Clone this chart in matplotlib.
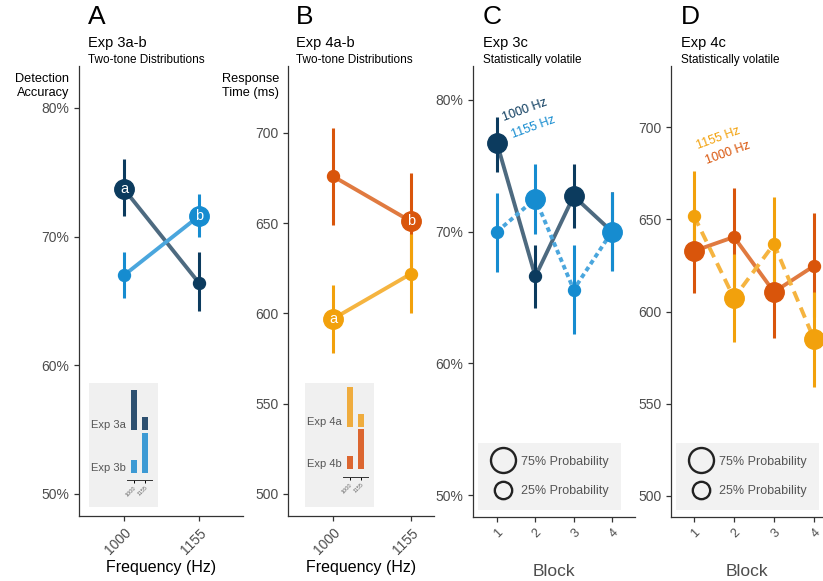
import matplotlib.pyplot as plt
from matplotlib.lines import Line2D
from matplotlib.ticker import FuncFormatter

plt.rcParams['font.family'] = ['Liberation Sans', 'DejaVu Sans']

W, H = 823, 581

# ---- data ----
freq_labels = ['1000', '1155']

# panel A: detection accuracy (%)
a3a_mean = [73.7, 66.4]
a3a_lo = [71.6, 64.2]
a3a_hi = [76.0, 68.8]
a3a_tag = ['a', '']
a3b_mean = [67.0, 71.6]
a3b_lo = [65.2, 70.0]
a3b_hi = [68.8, 73.3]
a3b_tag = ['', 'b']

# panel B: response time (ms)
b4a_mean = [597, 622]
b4a_lo = [578, 600]
b4a_hi = [616, 644]
b4a_tag = ['a', '']
b4b_mean = [676, 651]
b4b_lo = [649, 625]
b4b_hi = [703, 678]
b4b_tag = ['', 'b']

# inset tone probabilities
exp_a_prob = [0.75, 0.25]
exp_b_prob = [0.25, 0.75]

# panel C: accuracy per block (%)
blocks = [1, 2, 3, 4]
c1000_mean = [76.7, 66.6, 72.7, 70.0]
c1000_lo = [74.5, 64.2, 70.3, 67.1]
c1000_hi = [78.7, 69.0, 75.1, 73.0]
c1155_mean = [70.0, 72.5, 65.6, 70.0]
c1155_lo = [66.9, 69.8, 62.2, 67.0]
c1155_hi = [72.9, 75.1, 69.0, 73.0]

# panel D: response time per block (ms)
d1000_mean = [632.8, 640.4, 610.6, 624.7]
d1000_lo = [610, 614, 585.6, 597]
d1000_hi = [656, 667, 637.7, 653.4]
d1155_mean = [651.8, 607.3, 636.6, 585.0]
d1155_lo = [628, 583.5, 610, 559]
d1155_hi = [676.2, 631.2, 662, 610.6]

prob_1000 = [0.75, 0.25, 0.75, 0.25]
prob_1155 = [0.25, 0.75, 0.25, 0.75]

# ---- colours ----
navy, navy_line = '#0c3b5e', '#4d6a80'
blue, blue_line = '#168cd0', '#4aa6dd'
dor, dor_line = '#d9550b', '#e07a40'
lor, lor_line = '#f2a10c', '#f5b440'
grey_txt = '#4d4d4d'

fig = plt.figure(figsize=(W / 100, H / 100), dpi=100)


def px_axes(left, top, right, bottom):
    return fig.add_axes([left / W, 1 - bottom / H, (right - left) / W, (bottom - top) / H])


def style(ax):
    for s in ['top', 'right']:
        ax.spines[s].set_visible(False)
    for s in ['left', 'bottom']:
        ax.spines[s].set_color('#333333')
        ax.spines[s].set_linewidth(0.9)
    ax.tick_params(length=3.5, width=0.9, color='#333333', labelcolor=grey_txt, labelsize=10)


def size_of(p):
    return 14 if p > 0.5 else 8.6


def series(ax, x, mean, lo, hi, col, lcol, ls='-', sizes=None, tags=None, dash=None):
    ln, = ax.plot(x, mean, color=lcol, lw=2.8, ls=ls, zorder=1, solid_capstyle='butt')
    if dash is not None:
        ln.set_dashes(dash)
        ln.set_dash_capstyle('butt')
    ax.vlines(x, lo, hi, color=col, lw=2.2, zorder=2)
    for i, (xi, m) in enumerate(zip(x, mean)):
        tag = tags[i] if tags else ''
        ms = sizes[i] if sizes else (14 if tag else 8.6)
        ax.plot([xi], [m], 'o', ms=ms, color=col, mec=col, zorder=3)
        if tag:
            ax.text(xi, m, tag, color='white', fontsize=10.5, ha='center', va='center', zorder=4)


def titles(x, letter, exp, sub):
    fig.text(x / W, 1 - 17 / H, letter, fontsize=19, va='center', ha='left')
    fig.text(x / W, 1 - 43 / H, exp, fontsize=10.5, va='center', ha='left')
    fig.text(x / W, 1 - 60 / H, sub, fontsize=8.5, va='center', ha='left')


def freq_axis(ax):
    ax.set_xticks([0, 1])
    ax.set_xticklabels(freq_labels, rotation=45, ha='right', va='top', rotation_mode='anchor')
    ax.set_xlabel('Frequency (Hz)', fontsize=11.5, labelpad=2)


def inset(left, top, right, bottom, base_a, base_b, axis_y, names, colors):
    bg = px_axes(left, top, right, bottom)
    bg.set_facecolor('#f0f0f0')
    bg.set_xticks([])
    bg.set_yticks([])
    for s in bg.spines.values():
        s.set_visible(False)
    fl = left + 38
    fr = left + 63
    for base, probs, name, col in [(base_a, exp_a_prob, names[0], colors[0]),
                                    (base_b, exp_b_prob, names[1], colors[1])]:
        fa = px_axes(fl, base - 43, fr, base)
        fa.patch.set_alpha(0)
        fa.bar([0, 1], probs, width=0.55, color=col)
        fa.set_xlim(-0.64, 1.64)
        fa.set_ylim(0, 0.806)
        fa.set_yticks([])
        for s in ['top', 'right', 'left']:
            fa.spines[s].set_visible(False)
        fa.text(-0.04, 0.12, name, transform=fa.transAxes, ha='right', va='center',
                fontsize=8, color='#555555')
        if base == base_b:
            fa.spines['bottom'].set_position(('outward', (axis_y - base) * 0.72))
            fa.spines['bottom'].set_linewidth(0.7)
            fa.spines['bottom'].set_color('#333333')
            fa.set_xticks([0, 1])
            fa.set_xticklabels(freq_labels, rotation=45, ha='right', va='top',
                               rotation_mode='anchor', fontsize=4, color='#666666')
            fa.tick_params(length=2.5, width=0.7, pad=1)
        else:
            fa.spines['bottom'].set_visible(False)
            fa.set_xticks([])


pct = FuncFormatter(lambda v, p: f'{v:.0f}%')

# ---- panel A ----
axA = px_axes(79, 66, 243, 516)
style(axA)
series(axA, [0, 1], a3a_mean, a3a_lo, a3a_hi, navy, navy_line, tags=a3a_tag)
series(axA, [0, 1], a3b_mean, a3b_lo, a3b_hi, blue, blue_line, tags=a3b_tag)
axA.set_xlim(-0.6, 1.587)
axA.set_ylim(48.29, 83.26)
axA.set_yticks([50, 60, 70, 80])
axA.yaxis.set_major_formatter(pct)
freq_axis(axA)
titles(88, 'A', 'Exp 3a-b', 'Two-tone Distributions')
fig.text(69 / W, 1 - 86 / H, 'Detection\nAccuracy', fontsize=9.2, ha='right', va='center',
         multialignment='right', linespacing=1.25)
inset(89, 383, 158, 507, 430, 473, 480, ['Exp 3a', 'Exp 3b'], ['#2d5070', '#3d9ad4'])

# ---- panel B ----
axB = px_axes(288, 66, 434, 516)
style(axB)
series(axB, [0, 1], b4b_mean, b4b_lo, b4b_hi, dor, dor_line, tags=b4b_tag)
series(axB, [0, 1], b4a_mean, b4a_lo, b4a_hi, lor, lor_line, tags=b4a_tag)
axB.set_xlim(-0.577, 1.295)
axB.set_ylim(487.8, 737.1)
axB.set_yticks([500, 550, 600, 650, 700])
freq_axis(axB)
titles(296, 'B', 'Exp 4a-b', 'Two-tone Distributions')
fig.text(222 / W, 1 - 86 / H, 'Response\nTime (ms)', fontsize=9.2, ha='left', va='center',
         linespacing=1.25)
inset(305, 383, 374, 507, 427, 469, 477, ['Exp 4a', 'Exp 4b'], ['#efac3e', '#dc6630'])


def block_axis(ax):
    ax.set_xticks(blocks)
    ax.set_xticklabels([str(b) for b in blocks], rotation=45, ha='right', va='top',
                       rotation_mode='anchor', fontsize=9)
    ax.set_xlabel('Block', fontsize=12.5, color=grey_txt, labelpad=17)


def prob_legend(ax):
    hs = [Line2D([], [], ls='none', marker='o', ms=18, mfc='none', mec='#222222', mew=1.7),
          Line2D([], [], ls='none', marker='o', ms=12.5, mfc='none', mec='#222222', mew=1.7)]
    leg = ax.legend(hs, ['75% Probability', '25% Probability'], loc='lower left',
                    bbox_to_anchor=(0.03, 0.016), borderaxespad=0, frameon=True,
                    facecolor='#f2f2f2', edgecolor='none', fontsize=9, labelcolor='#555555',
                    handletextpad=0.45, borderpad=1.0, labelspacing=1.4, handlelength=2.0)
    leg.get_frame().set_boxstyle('square', pad=0)
    leg.get_frame().set_alpha(1)


# ---- panel C ----
axC = px_axes(473, 66, 635, 517)
style(axC)
series(axC, blocks, c1000_mean, c1000_lo, c1000_hi, navy, navy_line,
       sizes=[size_of(p) for p in prob_1000])
series(axC, blocks, c1155_mean, c1155_lo, c1155_hi, blue, blue_line,
       sizes=[size_of(p) for p in prob_1155], dash=(1.2, 0.9))
axC.set_xlim(0.373, 4.6)
axC.set_ylim(48.33, 82.58)
axC.set_yticks([50, 60, 70, 80])
axC.yaxis.set_major_formatter(pct)
block_axis(axC)
prob_legend(axC)
axC.text(1.73, 79.2, '1000 Hz', color=navy, rotation=20, fontsize=9, ha='center', va='center')
axC.text(1.94, 77.95, '1155 Hz', color=blue, rotation=20, fontsize=9, ha='center', va='center')
titles(483, 'C', 'Exp 3c', 'Statistically volatile')

# ---- panel D ----
axD = px_axes(671, 66, 823, 517)
style(axD)
series(axD, blocks, d1000_mean, d1000_lo, d1000_hi, dor, dor_line,
       sizes=[size_of(p) for p in prob_1000])
series(axD, blocks, d1155_mean, d1155_lo, d1155_hi, lor, lor_line,
       sizes=[size_of(p) for p in prob_1155], dash=(2.8, 1.7))
axD.set_xlim(0.425, 4.225)
axD.set_ylim(488.6, 733.1)
axD.set_yticks([500, 550, 600, 650, 700])
block_axis(axD)
prob_legend(axD)
axD.text(1.6, 694, '1155 Hz', color=lor, rotation=20, fontsize=9, ha='center', va='center')
axD.text(1.85, 686, '1000 Hz', color=dor, rotation=20, fontsize=9, ha='center', va='center')
titles(681, 'D', 'Exp 4c', 'Statistically volatile')

fig.savefig('out.png', dpi=100)
